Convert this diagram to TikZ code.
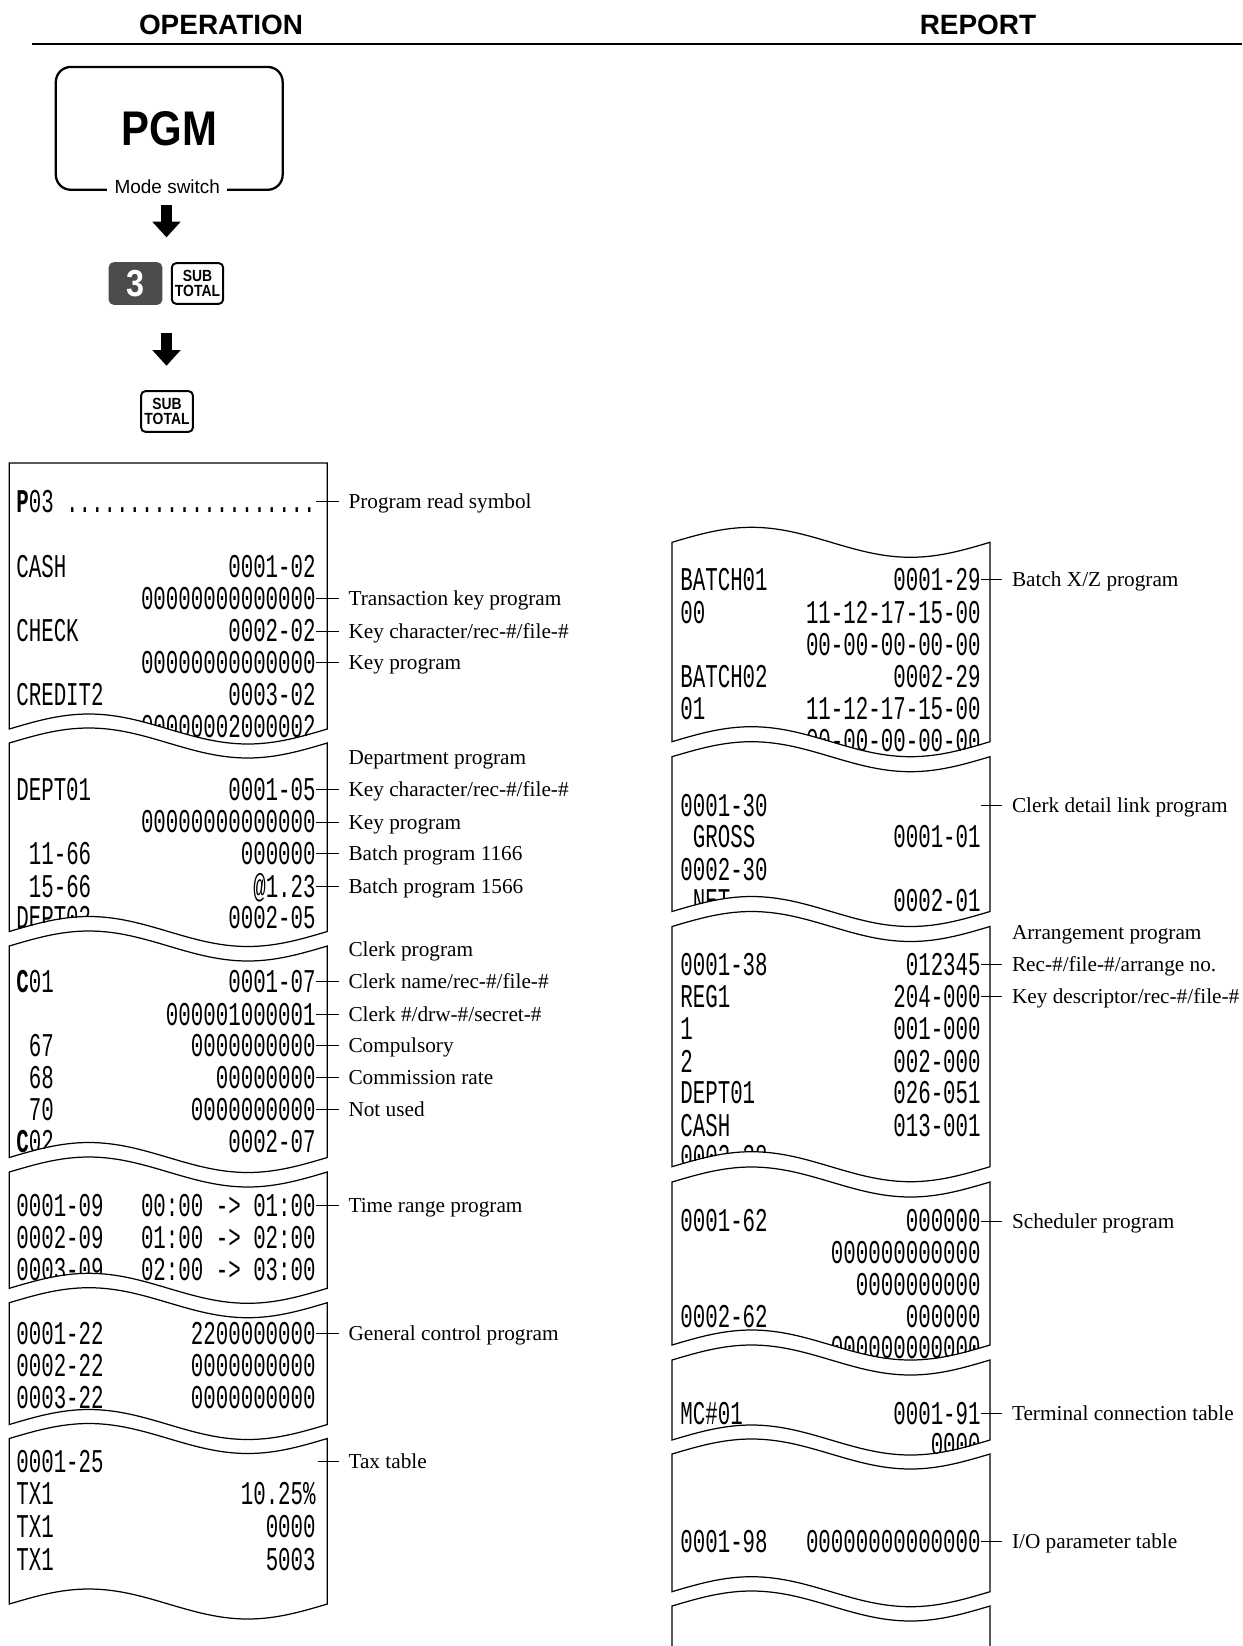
\documentclass[tikz,border=0pt]{standalone}
\usepackage{fontspec}
\setmainfont{Liberation Serif}
\newfontfamily\headfont{Liberation Sans}
\newfontfamily\keyfont[FakeStretch=0.86]{Liberation Sans}
\newfontfamily\slipfont[FakeStretch=0.626]{Liberation Mono}
\usetikzlibrary{arrows.meta}
\definecolor{keygray}{gray}{0.3}

% torn piece of roll paper: left x, top wave, bottom wave
\newcommand{\tornstrip}[3]{(#1,#2) sin ++(79.5,-15) cos ++(79.5,15) sin ++(79.5,15) cos ++(79.5,-15)
  -- ++(0,#3-#2) sin ++(-79.5,15) cos ++(-79.5,-15) sin ++(-79.5,-15) cos ++(-79.5,15) -- cycle}

\begin{document}
\begin{tikzpicture}[x=0.02cm,y=-0.02cm,
  paper/.style={line width=0.7pt},
  slip/.style={font=\slipfont\fontsize{18.9}{21}\selectfont,inner sep=0pt,text height=12.45pt,text depth=0pt},
  sl/.style={slip,anchor=west},
  sr/.style={slip,anchor=east},
  lab/.style={anchor=west,inner sep=0pt,outer xsep=5.7pt,text height=8pt,text depth=0pt,font=\fontsize{12.1}{14}\selectfont},
  keybox/.style={draw,line width=1.1pt,rounded corners=2.5pt,minimum height=23.2pt,inner sep=0pt,align=center,
    font=\keyfont\bfseries\fontsize{9.2}{8.2}\selectfont},
  bigarrow/.style={line width=6.1pt,-{Triangle[width=16.2pt 0,length=8.9pt 0,line width=0pt]}}]
  \useasboundingbox (0,0) rectangle (1242,1646);

  % headings
  \node[inner sep=0pt,font=\headfont\bfseries\fontsize{15.9}{18}\selectfont] (oper) at (221,24.7) {OPERATION};
  \node[inner sep=0pt,font=\headfont\bfseries\fontsize{15.9}{18}\selectfont] (rept) at (978,24.7) {REPORT};
  \draw[line width=1.4pt] (32.4,44) -- (1242,44);

  % mode switch and keys
  \node[draw,line width=1.3pt,rounded corners=8.5pt,minimum width=129.1pt,minimum height=69.9pt,inner sep=0pt,
    font=\keyfont\bfseries\fontsize{27.7}{30}\selectfont] (pgm) at (169.25,128.35) {PGM};
  \node[fill=white,inner xsep=4.2pt,inner ysep=2pt,font=\headfont\fontsize{10.8}{13}\selectfont] (mode) at (167.3,187) {Mode switch};
  \coordinate (ar1a) at (166.5,205);
  \coordinate (ar1b) at (166.5,237.3);
  \draw[bigarrow] (ar1a) -- (ar1b);
  \node[keybox,draw=keygray,fill=keygray,text=white,minimum width=29.5pt,
    font=\keyfont\bfseries\fontsize{21.4}{24}\selectfont] (kthree) at (135.5,283.5) {3};
  \node[keybox,minimum width=29.2pt] (ksub) at (197.5,283.5) {SUB\\TOTAL};
  \coordinate (ar2a) at (166.5,332.7);
  \coordinate (ar2b) at (166.5,365.7);
  \draw[bigarrow] (ar2a) -- (ar2b);
  \node[keybox,minimum width=29.5pt] (ksubb) at (167,411.5) {SUB\\TOTAL};

  % ---- left roll ----
  \begin{scope}
    \clip (9.3,463) -- (327.3,463) -- (327.3,729) sin ++(-79.5,15) cos ++(-79.5,-15) sin ++(-79.5,-15) cos ++(-79.5,15) -- cycle;
    \node[sl] (pthree) at (16,501.8) {\textbf{P}03};
    \node[sr] (pdots) at (316,501.8) {....................};
    \node[sl] (cash) at (16,566.9) {CASH};
    \node[sr] (cashno) at (316,566.9) {0001-02};
    \node[sr] (cashprog) at (316,598.4) {00000000000000};
    \node[sl] (check) at (16,631) {CHECK};
    \node[sr] (checkno) at (316,631) {0002-02};
    \node[sr] (checkprog) at (316,662.5) {00000000000000};
    \node[sl] (credit) at (16,695) {CREDIT2};
    \node[sr] (creditno) at (316,695) {0003-02};
    \node[sr] (creditprog) at (316,726.5) {00000002000002};
  \end{scope}
  \draw[paper] (9.3,463) -- (327.3,463) -- (327.3,729) sin ++(-79.5,15) cos ++(-79.5,-15) sin ++(-79.5,-15) cos ++(-79.5,15) -- cycle;

  \begin{scope}
    \clip \tornstrip{9.3}{743}{931.5};
    \node[sl] (deptone) at (16,789.5) {DEPT01};
    \node[sr] (depno) at (316,789.5) {0001-05};
    \node[sr] (depprog) at (316,822) {00000000000000};
    \node[sl] (bone) at (28.5,853.5) {11-66};
    \node[sr] (bonev) at (316,853.5) {000000};
    \node[sl] (btwo) at (28.5,886.1) {15-66};
    \node[sr] (btwov) at (316,886.1) {@1.23};
    \node[sl] (depttwo) at (16,917.6) {DEPT02};
    \node[sr] (deptwono) at (316,917.6) {0002-05};
  \end{scope}
  \draw[paper] \tornstrip{9.3}{743}{931.5};

  \begin{scope}
    \clip \tornstrip{9.3}{946}{1157.5};
    \node[sl] (cone) at (16,981.6) {\textbf{C}01};
    \node[sr] (coneno) at (316,981.6) {0001-07};
    \node[sr] (conesec) at (316,1014.2) {000001000001};
    \node[sl] (csix) at (28.5,1045.7) {67};
    \node[sr] (csixv) at (316,1045.7) {0000000000};
    \node[sl] (ceight) at (28.5,1077.2) {68};
    \node[sr] (ceightv) at (316,1077.2) {00000000};
    \node[sl] (cseven) at (28.5,1109.7) {70};
    \node[sr] (csevenv) at (316,1109.7) {0000000000};
    \node[sl] (ctwo) at (16,1141.2) {\textbf{C}02};
    \node[sr] (ctwono) at (316,1141.2) {0002-07};
  \end{scope}
  \draw[paper] \tornstrip{9.3}{946}{1157.5};

  \begin{scope}
    \clip \tornstrip{9.3}{1172}{1288.3};
    \node[sl] (tone) at (16,1205.2) {0001-09};
    \node[sr] (tonev) at (316,1205.2) {00:00 -> 01:00};
    \node[sl] (ttwo) at (16,1237.8) {0002-09};
    \node[sr] (ttwov) at (316,1237.8) {01:00 -> 02:00};
    \node[sl] (tthree) at (16,1269.3) {0003-09};
    \node[sr] (tthreev) at (316,1269.3) {02:00 -> 03:00};
  \end{scope}
  \draw[paper] \tornstrip{9.3}{1172}{1288.3};

  \begin{scope}
    \clip \tornstrip{9.3}{1302.7}{1424.5};
    \node[sl] (gone) at (16,1333.3) {0001-22};
    \node[sr] (gonev) at (316,1333.3) {2200000000};
    \node[sl] (gtwo) at (16,1365.9) {0002-22};
    \node[sr] (gtwov) at (316,1365.9) {0000000000};
    \node[sl] (gthree) at (16,1397.4) {0003-22};
    \node[sr] (gthreev) at (316,1397.4) {0000000000};
  \end{scope}
  \draw[paper] \tornstrip{9.3}{1302.7}{1424.5};

  \begin{scope}
    \clip \tornstrip{9.3}{1438.5}{1604};
    \node[sl] (xhead) at (16,1461.4) {0001-25};
    \node[sl] (xone) at (16,1494) {TX1};
    \node[sr] (xonev) at (316,1494) {10.25\%};
    \node[sl] (xtwo) at (16,1526.5) {TX1};
    \node[sr] (xtwov) at (316,1526.5) {0000};
    \node[sl] (xthree) at (16,1559.1) {TX1};
    \node[sr] (xthreev) at (316,1559.1) {5003};
  \end{scope}
  \draw[paper] \tornstrip{9.3}{1438.5}{1604};
  \coordinate (taxend) at (317.5,1461.4);

  % left notes
  \node[lab] (lread) at (338.5,501.8) {Program read symbol};
  \node[lab] (ltrans) at (338.5,598.4) {Transaction key program};
  \node[lab] (lkeychar) at (338.5,631) {Key character/rec-\#/file-\#};
  \node[lab] (lkeyprog) at (338.5,662.5) {Key program};
  \node[lab] (ldept) at (338.5,757) {Department program};
  \node[lab] (ldepchar) at (338.5,789.5) {Key character/rec-\#/file-\#};
  \node[lab] (ldepprog) at (338.5,822) {Key program};
  \node[lab] (lbone) at (338.5,853.5) {Batch program 1166};
  \node[lab] (lbtwo) at (338.5,886.1) {Batch program 1566};
  \node[lab] (lclerk) at (338.5,949.1) {Clerk program};
  \node[lab] (lcname) at (338.5,981.6) {Clerk name/rec-\#/file-\#};
  \node[lab] (lcsec) at (338.5,1014.2) {Clerk \#/drw-\#/secret-\#};
  \node[lab] (lcomp) at (338.5,1045.7) {Compulsory};
  \node[lab] (lrate) at (338.5,1077.2) {Commission rate};
  \node[lab] (lunused) at (338.5,1109.7) {Not used};
  \node[lab] (ltime) at (338.5,1205.2) {Time range program};
  \node[lab] (lgen) at (338.5,1333.3) {General control program};
  \node[lab] (ltax) at (338.5,1461.4) {Tax table};
  \draw (pdots.east) -- (lread.west);
  \draw (cashprog.east) -- (ltrans.west);
  \draw (checkno.east) -- (lkeychar.west);
  \draw (checkprog.east) -- (lkeyprog.west);
  \draw (depno.east) -- (ldepchar.west);
  \draw (depprog.east) -- (ldepprog.west);
  \draw (bonev.east) -- (lbone.west);
  \draw (btwov.east) -- (lbtwo.west);
  \draw (coneno.east) -- (lcname.west);
  \draw (conesec.east) -- (lcsec.west);
  \draw (csixv.east) -- (lcomp.west);
  \draw (ceightv.east) -- (lrate.west);
  \draw (csevenv.east) -- (lunused.west);
  \draw (tonev.east) -- (ltime.west);
  \draw (gonev.east) -- (lgen.west);
  \draw (taxend) -- (ltax.west);

  % ---- right roll ----
  \begin{scope}
    \clip \tornstrip{672}{542.3}{741.7};
    \node[sl] (bxone) at (680,579.5) {BATCH01};
    \node[sr] (bxoneno) at (981,579.5) {0001-29};
    \node[sl] (bxa) at (680,612.1) {00};
    \node[sr] (bxav) at (981,612.1) {11-12-17-15-00};
    \node[sr] (bxb) at (981,644.6) {00-00-00-00-00};
    \node[sl] (bxtwo) at (680,676.1) {BATCH02};
    \node[sr] (bxtwono) at (981,676.1) {0002-29};
    \node[sl] (bxc) at (680,708.7) {01};
    \node[sr] (bxcv) at (981,708.7) {11-12-17-15-00};
    \node[sr] (bxd) at (981,740.2) {00-00-00-00-00};
  \end{scope}
  \draw[paper] \tornstrip{672}{542.3}{741.7};

  \begin{scope}
    \clip \tornstrip{672}{756.7}{911.5};
    \node[sl] (lkone) at (680,805.2) {0001-30};
    \node[sl] (gross) at (692.5,836.7) {GROSS};
    \node[sr] (grossno) at (981,836.7) {0001-01};
    \node[sl] (lktwo) at (680,869.3) {0002-30};
    \node[sl] (net) at (692.5,900.8) {NET};
    \node[sr] (netno) at (981,900.8) {0002-01};
  \end{scope}
  \draw[paper] \tornstrip{672}{756.7}{911.5};
  \coordinate (linkend) at (981,805.2);

  \begin{scope}
    \clip \tornstrip{672}{926.5}{1166.7};
    \node[sl] (arone) at (680,964.8) {0001-38};
    \node[sr] (aronev) at (981,964.8) {012345};
    \node[sl] (reg) at (680,996.3) {REG1};
    \node[sr] (regv) at (981,996.3) {204-000};
    \node[sl] (aa) at (680,1028.9) {1};
    \node[sr] (aav) at (981,1028.9) {001-000};
    \node[sl] (ab) at (680,1061.4) {2};
    \node[sr] (abv) at (981,1061.4) {002-000};
    \node[sl] (ac) at (680,1092.9) {DEPT01};
    \node[sr] (acv) at (981,1092.9) {026-051};
    \node[sl] (ad) at (680,1125.5) {CASH};
    \node[sr] (adv) at (981,1125.5) {013-001};
    \node[sl] (artwo) at (680,1157) {0002-38};
  \end{scope}
  \draw[paper] \tornstrip{672}{926.5}{1166.7};

  \begin{scope}
    \clip \tornstrip{672}{1182}{1345};
    \node[sl] (scone) at (680,1221) {0001-62};
    \node[sr] (sconev) at (981,1221) {000000};
    \node[sr] (sca) at (981,1252.5) {000000000000};
    \node[sr] (scb) at (981,1285) {0000000000};
    \node[sl] (sctwo) at (680,1316.5) {0002-62};
    \node[sr] (sctwov) at (981,1316.5) {000000};
    \node[sr] (scc) at (981,1348) {000000000000};
  \end{scope}
  \draw[paper] \tornstrip{672}{1182}{1345};

  \begin{scope}
    \clip \tornstrip{672}{1360}{1440};
    \node[sl] (mc) at (680,1413.1) {MC\#01};
    \node[sr] (mcno) at (981,1413.1) {0001-91};
    \node[sr] (mcv) at (981,1444.6) {0000};
  \end{scope}
  \draw[paper] \tornstrip{672}{1360}{1440};

  \begin{scope}
    \clip \tornstrip{672}{1454}{1591.7};
    \node[sl] (io) at (680,1541.2) {0001-98};
    \node[sr] (iov) at (981,1541.2) {00000000000000};
  \end{scope}
  \draw[paper] \tornstrip{672}{1454}{1591.7};
  \draw[paper] (672,1646) -- (672,1606) sin ++(79.5,-15) cos ++(79.5,15) sin ++(79.5,15) cos ++(79.5,-15) -- (990,1646);

  % right notes
  \node[lab] (rbatch) at (1002,579.5) {Batch X/Z program};
  \node[lab] (rlink) at (1002,805.2) {Clerk detail link program};
  \node[lab] (rarr) at (1002,932.3) {Arrangement program};
  \node[lab] (rrec) at (1002,964.8) {Rec-\#/file-\#/arrange no.};
  \node[lab] (rdesc) at (1002,996.3) {Key descriptor/rec-\#/file-\#};
  \node[lab] (rsched) at (1002,1221) {Scheduler program};
  \node[lab] (rterm) at (1002,1413.1) {Terminal connection table};
  \node[lab] (rio) at (1002,1541.2) {I/O parameter table};
  \draw (bxoneno.east) -- (rbatch.west);
  \draw (linkend) -- (rlink.west);
  \draw (aronev.east) -- (rrec.west);
  \draw (regv.east) -- (rdesc.west);
  \draw (sconev.east) -- (rsched.west);
  \draw (mcno.east) -- (rterm.west);
  \draw (iov.east) -- (rio.west);
\end{tikzpicture}
\end{document}
